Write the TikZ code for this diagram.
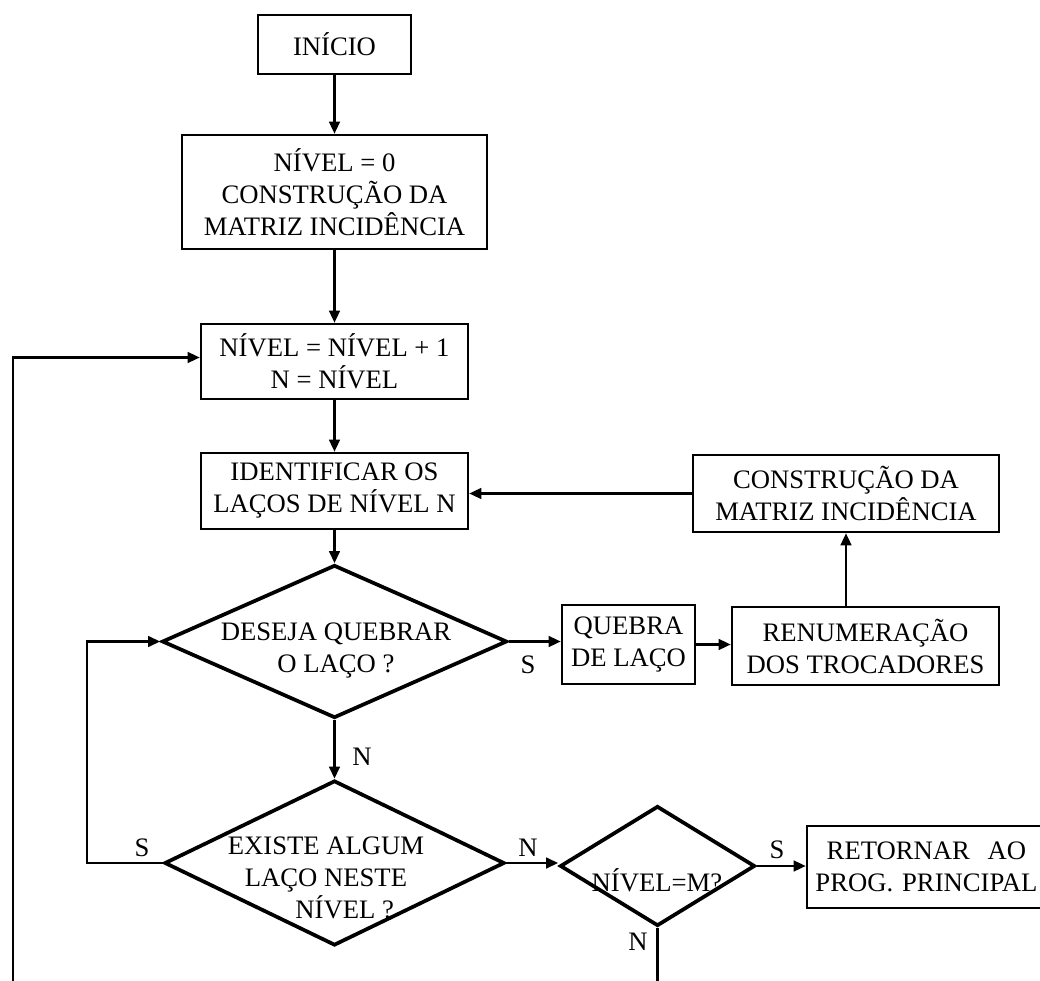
\documentclass[tikz,border=0pt]{standalone}
\usepackage{fontspec}
\setmainfont{Liberation Serif}
\usetikzlibrary{shapes.geometric,arrows.meta}
\begin{document}
\begin{tikzpicture}[x=0.75pt,y=-0.75pt,
  font=\fontsize{20}{24}\selectfont,
  box/.style={draw,line width=1.9pt,inner sep=0pt,align=center},
  decision/.style={draw,diamond,line width=2.8pt,inner sep=0pt},
  txt/.style={inner sep=0pt,align=center},
  flow/.style={line width=1.7pt,-{Triangle[length=9pt,width=8pt]}},
  plain/.style={line width=1.9pt},
  lbl/.style={inner sep=0pt}]
\useasboundingbox (0,0) rectangle (1040,981);
\clip (0,0) rectangle (1040,981);

% process boxes
\node[box,minimum width=114.75pt,minimum height=44.25pt] (inicio) at (334.5,44.5) {INÍCIO};
\node[box,minimum width=228.75pt,minimum height=85.5pt] (nivel0) at (334.5,192) {NÍVEL = 0\\CONSTRUÇÃO DA\\MATRIZ INCIDÊNCIA};
\node[box,minimum width=200.25pt,minimum height=56.25pt] (incr) at (334.5,361.5) {NÍVEL = NÍVEL + 1\\N = NÍVEL};
\node[box,minimum width=200.25pt,minimum height=57pt] (ident) at (334.5,491) {IDENTIFICAR OS\\LAÇOS DE NÍVEL N};
\node[box,minimum width=229.5pt,minimum height=57.75pt] (constr) at (846,493.5) {CONSTRUÇÃO DA\\MATRIZ INCIDÊNCIA};
\node[box,minimum width=99.75pt,minimum height=59.25pt] (quebra) at (628.5,644.5) {QUEBRA\\DE LAÇO};
\node[box,minimum width=200.25pt,minimum height=58.5pt] (renum) at (865.5,646) {RENUMERAÇÃO\\DOS TROCADORES};
\node[box,minimum width=179.25pt,minimum height=61.5pt,text width=179.25pt] (ret) at (926.5,867) {RETORNAR\ \ AO\\PROG. PRINCIPAL};

% decisions
\node[decision,minimum width=258.75pt,minimum height=114.75pt] (d1) at (334.5,641.5) {};
\node[decision,minimum width=255pt,minimum height=123.75pt] (d2) at (334.5,863) {};
\node[decision,minimum width=146.25pt,minimum height=90pt] (d3) at (657.5,866) {};
\node[txt] (d1t) at (336,651) {DESEJA QUEBRAR\\O LAÇO ?};
\node[txt] (d2t) at (326,878) {EXISTE ALGUM\\LAÇO NESTE\\\hspace*{28pt}NÍVEL ?};
\node[txt] (d3t) at (657,880) {NÍVEL=M?};

% branch labels
\node[lbl] (sA) at (142,848) {S};
\node[lbl] (nA) at (362,757) {N};
\node[lbl] (sB) at (528,665) {S};
\node[lbl] (nB) at (528,848) {N};
\node[lbl] (sC) at (777,850) {S};
\node[lbl] (nC) at (638,942) {N};

% auxiliary points for the outer paths
\coordinate (loopL) at (87,0);
\coordinate (outL) at (13,995);
\coordinate (outR) at (657.5,995);

% connectors
\draw[flow] (inicio) -- (nivel0);
\draw[flow] (nivel0) -- (incr);
\draw[flow] (incr) -- (ident);
\draw[flow] (ident) -- (d1);
\draw[flow] (d1.east) -- (d1.east -| quebra.west);
\draw[flow] (quebra.east) -- (quebra.east -| renum.west);
\draw[flow] (constr.south |- renum.north) -- (constr.south);
\draw[flow] (constr.west) -- (constr.west -| ident.east);
\draw[flow] (d1.south) -- (d2.north);
\draw[flow] (d2.west) -- (d2.west -| loopL) |- (d1.west);
\draw[flow] (d2.east) -- (d2.east -| d3.west);
\draw[flow] (d3.east) -- (ret.west |- d3.east);
\draw[plain] (d3.south) -- (outR);
\draw[flow] (outL) |- ([yshift=3pt]incr.west);
\end{tikzpicture}
\end{document}
